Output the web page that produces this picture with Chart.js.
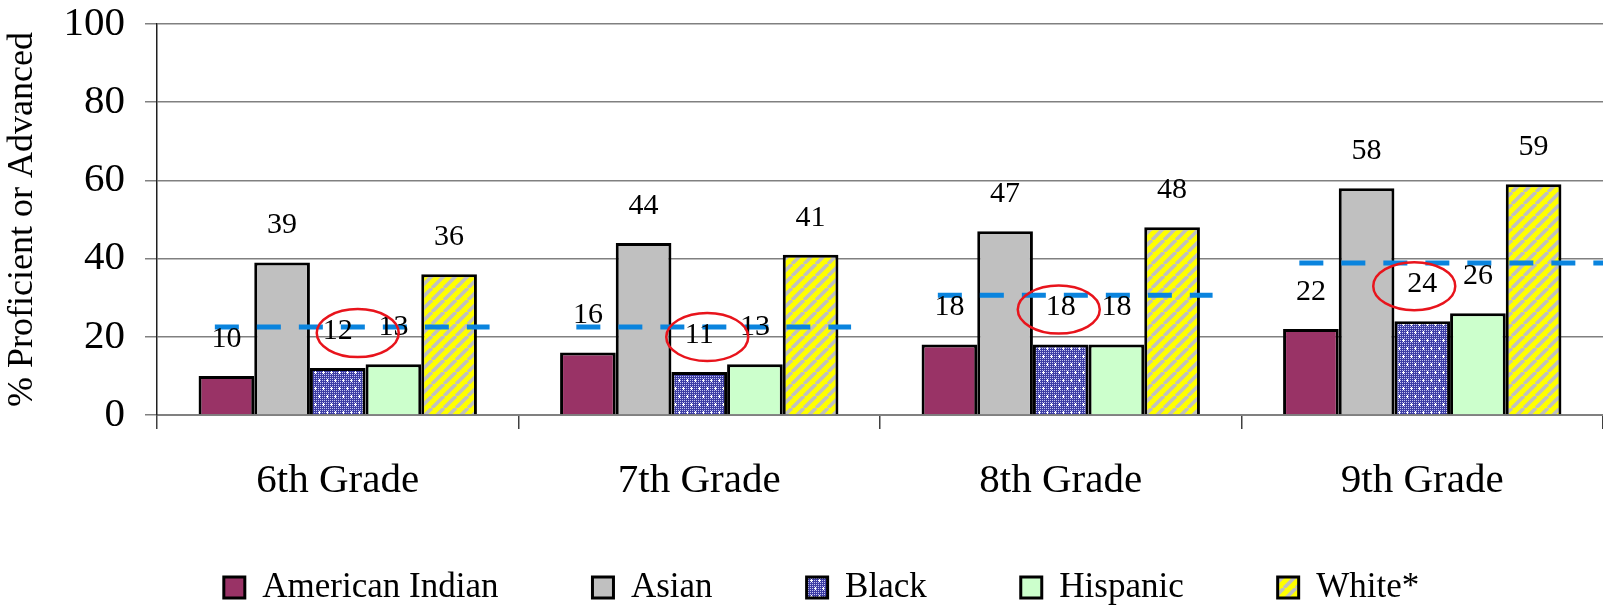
<!DOCTYPE html>
<html>
<head>
<meta charset="utf-8">
<script src="https://cdn.jsdelivr.net/npm/chart.js@4/dist/chart.umd.min.js"></script>
<style>
  html, body { margin: 0; padding: 0; background: #fff; }
  canvas { display: block; }
</style>
</head>
<body>
<canvas id="chart" width="1603" height="605"></canvas>
<script>
// données
var grades = ["6th Grade", "7th Grade", "8th Grade", "9th Grade"];
var americanIndian = [10, 16, 18, 22];
var asian = [39, 44, 47, 58];
var black = [12, 11, 18, 24];
var hispanic = [13, 13, 18, 26];
var white = [36, 41, 48, 59];
var stateAverage = [22.5, 22.5, 30.6, 38.9];
var yTicks = [0, 20, 40, 60, 80, 100];

// décalage horizontal des ellipses rouges (px)
var ellipseShift = [20, 8, -2, -8];

var serif = "'Liberation Serif', 'Times New Roman', serif";

/**
 * Motif bleu pointillé (Black)
 */
function dotPattern() {
  var c = document.createElement("canvas");
  c.width = 8;
  c.height = 16;
  var g = c.getContext("2d");
  g.fillStyle = "#3d3da5";
  g.fillRect(0, 0, 8, 16);
  g.fillStyle = "#c4c4f0";
  for (var y = 0; y < 16; y += 2) {
    for (var x = 0; x < 8; x += 2) {
      g.fillRect(x, y, 1, 1);
    }
  }
  g.fillStyle = "#ffffff";
  function plus(px, py) {
    g.fillRect(px - 1, py, 3, 1);
    g.fillRect(px, py - 1, 1, 3);
  }
  plus(3, 4);
  plus(7, 12);
  return g.createPattern(c, "repeat");
}

/**
 * Motif jaune rayé (White*)
 */
function stripePattern() {
  var s = 12;
  var c = document.createElement("canvas");
  c.width = s;
  c.height = s;
  var g = c.getContext("2d");
  g.fillStyle = "#ffff00";
  g.fillRect(0, 0, s, s);
  g.strokeStyle = "#c0c0c0";
  g.lineWidth = 3.5;
  for (var k = -s; k <= s; k += s) {
    g.beginPath();
    g.moveTo(k, s);
    g.lineTo(k + s, 0);
    g.stroke();
  }
  return g.createPattern(c, "repeat");
}

// lignes pointillées, étiquettes et ellipses
var overlays = {
  id: "overlays",
  afterDatasetsDraw: function (chart) {
    var ctx = chart.ctx;
    var xs = chart.scales.x;
    var ys = chart.scales.y;
    var step = xs.getPixelForValue(1) - xs.getPixelForValue(0);
    ctx.save();

    ctx.strokeStyle = "#0a84de";
    ctx.lineWidth = 5;
    ctx.setLineDash([24, 18]);
    stateAverage.forEach(function (v, i) {
      var cx = xs.getPixelForValue(i);
      var py = ys.getPixelForValue(v);
      ctx.beginPath();
      ctx.moveTo(cx - step * 0.34, py);
      ctx.lineTo(cx + step * (i === stateAverage.length - 1 ? 0.5 : 0.42), py);
      ctx.stroke();
    });
    ctx.setLineDash([]);

    ctx.font = "30px " + serif;
    ctx.fillStyle = "#000";
    ctx.textAlign = "center";
    ctx.textBaseline = "middle";
    chart.data.datasets.forEach(function (ds, di) {
      chart.getDatasetMeta(di).data.forEach(function (bar, i) {
        ctx.fillText(ds.data[i], bar.x, bar.y - 37);
      });
    });

    ctx.strokeStyle = "#e8141c";
    ctx.lineWidth = 2.5;
    chart.getDatasetMeta(2).data.forEach(function (bar, i) {
      ctx.beginPath();
      ctx.ellipse(bar.x + ellipseShift[i], bar.y - 35, 41, 24, 0, 0, Math.PI * 2);
      ctx.stroke();
    });
    ctx.restore();
  },
};

// remonte et décale la légende (la zone de la légende reste jusqu'en bas)
var legendShift = {
  id: "legendShift",
  afterLayout: function (chart) {
    var l = chart.legend;
    l.left += 20;
    l.right += 20;
    l.top -= 89;
  },
};

document.addEventListener("DOMContentLoaded", function () {
  var ctx = document.getElementById("chart").getContext("2d");

  function ds(label, data, fill) {
    return {
      label: label,
      data: data,
      backgroundColor: fill,
      borderColor: "#000",
      borderWidth: 3,
      categoryPercentage: 0.77,
      barPercentage: 1,
    };
  }

  new Chart(ctx, {
    type: "bar",
    data: {
      labels: grades,
      datasets: [
        ds("American Indian", americanIndian, "#993366"),
        ds("Asian", asian, "#c0c0c0"),
        ds("Black", black, dotPattern()),
        ds("Hispanic", hispanic, "#ccffcc"),
        ds("White*", white, stripePattern()),
      ],
    },
    options: {
      responsive: false,
      animation: false,
      devicePixelRatio: 1,
      layout: { padding: { top: 24, left: 0, right: 0, bottom: 0 } },
      scales: {
        x: {
          afterFit: function (scale) {
            scale.height = 150;
          },
          ticks: { font: { family: serif, size: 41 }, color: "#000", padding: 28 },
          grid: { drawOnChartArea: false, tickLength: 14, color: "#404040", lineWidth: 1.5 },
          border: { color: "#808080", width: 2 },
        },
        y: {
          min: 0,
          max: 100,
          afterBuildTicks: function (scale) {
            scale.ticks = yTicks.map(function (v) {
              return { value: v };
            });
          },
          afterFit: function (scale) {
            scale.width = 157;
            scale.paddingTop = 0;
            scale.paddingBottom = 0;
          },
          ticks: { font: { family: serif, size: 41 }, color: "#000", padding: 20 },
          grid: { color: "#808080", lineWidth: 1.5, tickLength: 12, tickColor: "#808080" },
          border: { color: "#202020", width: 1.5 },
          title: {
            display: true,
            text: "% Proficient or Advanced",
            font: { family: serif, size: 36 },
            color: "#000",
            padding: { top: 1, bottom: 0 },
          },
        },
      },
      plugins: {
        legend: {
          position: "bottom",
          maxHeight: 40,
          labels: {
            font: { family: serif, size: 35 },
            color: "#000",
            boxWidth: 21,
            boxHeight: 21,
            padding: 94,
          },
        },
        tooltip: { enabled: false },
      },
    },
    plugins: [overlays, legendShift],
  });
});
</script>
</body>
</html>
